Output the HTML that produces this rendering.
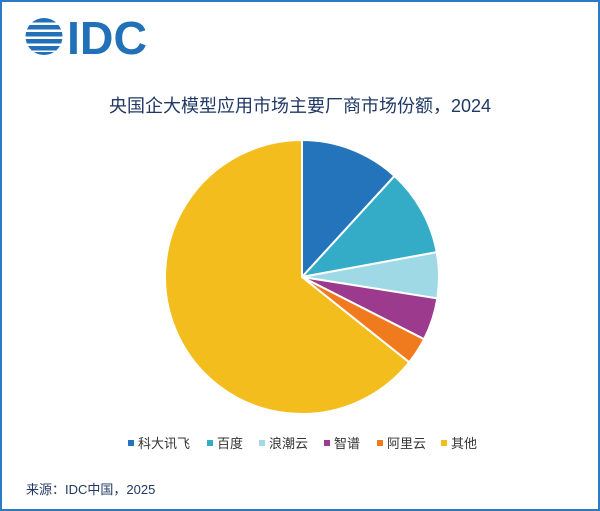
<!DOCTYPE html>
<html><head><meta charset="utf-8"><style>
body{margin:0;width:600px;height:511px;overflow:hidden;background:#fff;font-family:"Liberation Sans","Noto Sans CJK SC",sans-serif}
#frame{position:absolute;left:0;top:0;width:596px;height:507px;border:2px solid #2a7bc4}
</style></head><body>
<div id="frame"></div>
<svg width="600" height="511" style="position:absolute;left:0;top:0">
<g>
 <clipPath id="lc"><circle cx="44" cy="36.5" r="18.5"/></clipPath>
 <g clip-path="url(#lc)" fill="#2271b8">
  <rect x="20" y="18" width="50" height="4.5"/><rect x="20" y="25" width="50" height="4.5"/><rect x="20" y="32" width="50" height="4.5"/><rect x="20" y="39" width="50" height="4.5"/><rect x="20" y="46" width="50" height="4.5"/><rect x="20" y="52" width="50" height="4"/>
 </g>
 <text x="67" y="54" font-size="46" font-weight="bold" fill="#2271b8" font-family="Liberation Sans,sans-serif" textLength="80" lengthAdjust="spacingAndGlyphs">IDC</text>
</g>
<text x="300" y="112" text-anchor="middle" font-size="18" fill="#1f3864">央国企大模型应用市场主要厂商市场份额，2024</text>
<g id="pie"></g>
<g id="legend"></g>
<text x="26" y="494" font-size="13" fill="#1f3864">来源：IDC中国，2025</text>
</svg>
<script>
const categories=["科大讯飞","百度","浪潮云","智谱","阿里云","其他"];
const shares=[11.8,10.3,5.4,5.0,3.2,64.3];
const colors=["#2474bb","#35acc7","#9fd9e6","#9c3a8e","#f07b1f","#f3bd1e"];
const NS="http://www.w3.org/2000/svg";
const cx=302,cy=277,r=137;
const total=shares.reduce((a,b)=>a+b,0);
let a0=0;
const pie=document.getElementById('pie');
function pt(a){return [cx+r*Math.sin(a),cy-r*Math.cos(a)];}
shares.forEach((v,i)=>{
 const a1=a0+v/total*2*Math.PI;
 const p0=pt(a0),p1=pt(a1);
 const p=document.createElementNS(NS,'path');
 p.setAttribute('d',`M${cx},${cy}L${p0[0]},${p0[1]}A${r},${r} 0 ${a1-a0>Math.PI?1:0} 1 ${p1[0]},${p1[1]}Z`);
 p.setAttribute('fill',colors[i]);p.setAttribute('stroke','#fff');p.setAttribute('stroke-width','2');
 
 
 pie.appendChild(p);a0=a1;
});
const lg=document.getElementById('legend');
const lx=[128,207,259,324,377,441];
categories.forEach((c,i)=>{
 const g=document.createElementNS(NS,'g');
 
 
 const s=document.createElementNS(NS,'rect');
 s.setAttribute('x',lx[i]);s.setAttribute('y',440);s.setAttribute('width',6);s.setAttribute('height',6);s.setAttribute('fill',colors[i]);
 const t=document.createElementNS(NS,'text');
 t.setAttribute('x',lx[i]+10);t.setAttribute('y',448);t.setAttribute('font-size','13');t.setAttribute('fill','#333');
 t.textContent=c;
 g.appendChild(s);g.appendChild(t);lg.appendChild(g);
});
</script>
</body></html>
